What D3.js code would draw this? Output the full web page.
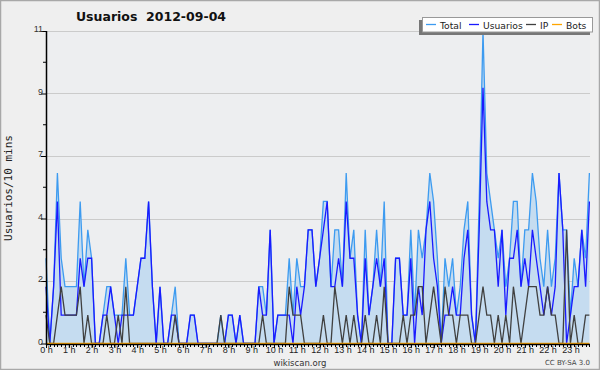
<!DOCTYPE html>
<html lang="es">
<head>
<meta charset="UTF-8">
<title>Usuarios 2012-09-04</title>
<script src="https://d3js.org/d3.v7.min.js"></script>
<style>
  html, body { margin: 0; padding: 0; background: #fff; }
  svg { display: block; font-family: "DejaVu Sans", Verdana, sans-serif; }
</style>
</head>
<body>
<div id="chart"></div>
<script>
// one value every 10 minutes, 144 per day
const hours = d3.range(24).map(h => h + " h");
const total = [
  3,0,2,6,3,2,2,2,2,5,2,4,3,0,0,1,2,2,1,1,1,3,1,1,
  2,3,3,5,2,0,2,0,0,1,2,0,0,0,1,1,0,0,0,0,0,0,1,0,
  1,1,0,1,0,0,0,0,2,2,1,4,0,1,1,1,3,1,3,2,2,4,4,2,
  3,5,5,2,4,4,2,6,3,4,1,0,4,1,2,4,2,5,0,0,3,3,1,1,
  4,1,4,3,4,6,5,3,0,3,2,3,1,2,4,5,1,0,5,11,6,5,4,3,
  4,2,3,5,5,2,4,4,6,5,3,2,4,2,3,6,4,4,1,3,2,4,3,6
];
const usuarios = [
  2,0,2,5,1,1,1,1,1,3,2,3,3,0,0,1,1,2,1,0,1,1,1,1,
  2,3,3,5,2,0,2,0,0,1,1,0,0,0,1,1,0,0,0,0,0,0,0,0,
  1,1,0,1,0,0,0,0,2,1,1,4,0,1,1,1,1,0,2,1,2,4,4,2,
  3,4,5,2,2,3,2,5,3,3,1,0,3,1,2,3,2,3,0,0,3,3,1,1,
  3,0,2,1,4,5,3,2,0,1,1,2,1,1,3,4,1,0,4,9,5,4,4,2,
  4,1,3,3,4,2,3,2,4,3,2,1,2,1,2,6,4,0,1,2,2,4,2,5
];
const ip = [
  1,0,0,1,2,1,1,1,1,2,0,1,0,0,0,0,1,0,0,1,0,2,0,0,
  0,0,0,0,0,0,0,0,0,0,1,0,0,0,0,0,0,0,0,0,0,0,1,0,
  0,0,0,0,0,0,0,0,0,1,0,0,0,0,0,0,2,1,1,1,0,0,0,0,
  0,1,0,0,2,1,0,1,0,1,0,0,1,0,0,1,0,2,0,0,0,0,1,0,
  1,1,2,2,0,1,2,1,0,2,1,1,0,1,1,1,0,0,1,2,1,1,0,1,
  0,1,0,2,1,0,1,2,2,2,1,1,2,1,1,0,0,4,0,1,0,0,1,1
];
const bots = new Array(144).fill(0);

const yTicks = [0, 2.2, 4.4, 6.6, 8.8, 11];

const series = [
  {name: "Total", values: total, color: "#3d9bf0"},
  {name: "Usuarios", values: usuarios, color: "#1a1aff"},
  {name: "IP", values: ip, color: "#404040"},
  {name: "Bots", values: bots, color: "#ffa500"}
];

const W = 600, H = 370;
const plotL = 46, plotR = 590, plotT = 31, plotB = 344;

const svg = d3.select("#chart").append("svg")
  .attr("width", W).attr("height", H);

svg.append("rect").attr("x", 0.5).attr("y", 0.5)
  .attr("width", W - 1).attr("height", H - 1)
  .attr("fill", "#efefef").attr("stroke", "#a8a8a8").attr("stroke-width", 1.5);

const x = d3.scaleLinear().domain([0, 143]).range([plotL, 589.4]);
const y = d3.scaleLinear().domain([0, 11]).range([plotB - 0.5, plotT]);

// plot area
svg.append("rect").attr("x", plotL).attr("y", plotT)
  .attr("width", plotR - plotL).attr("height", plotB - plotT)
  .attr("fill", "#edeef0");

// grid
svg.append("g").selectAll("line").data(yTicks.slice(1)).join("line")
  .attr("x1", plotL).attr("x2", plotR)
  .attr("y1", d => Math.round(y(d)) + 0.5).attr("y2", d => Math.round(y(d)) + 0.5)
  .attr("stroke", "#cbcbcb").attr("stroke-width", 1);

// area under total
svg.append("path").datum(total)
  .attr("fill", "#c5dcf0")
  .attr("d", d3.area().x((d, i) => x(i)).y0(y(0)).y1(d => y(d)));

const line = d3.line().x((d, i) => x(i)).y(d => y(d));
svg.append("g").selectAll("path").data(series).join("path")
  .attr("fill", "none")
  .attr("stroke", d => d.color)
  .attr("stroke-width", 1.3)
  .attr("d", d => line(d.values));

// y axis
const yAxis = svg.append("g").attr("transform", `translate(${plotL},0)`)
  .call(d3.axisLeft(y).tickValues(yTicks).tickSize(5).tickFormat(d => Math.round(d)));
yAxis.select(".domain").remove();
yAxis.selectAll(".tick line").attr("stroke", "#000");
yAxis.selectAll(".tick text").attr("font-size", 9).attr("fill", "#333").attr("x", -3).attr("dy", "0.1em");
svg.append("g").selectAll("line").data(d3.range(1.1, 11, 2.2)).join("line")
  .attr("x1", plotL - 3).attr("x2", plotL)
  .attr("y1", d => y(d)).attr("y2", d => y(d))
  .attr("stroke", "#000");
svg.append("line").attr("x1", plotL + 0.5).attr("x2", plotL + 0.5)
  .attr("y1", plotT).attr("y2", plotB + 1).attr("stroke", "#000").attr("stroke-width", 1.5);

// x axis
const xAxis = svg.append("g").attr("transform", `translate(0,${plotB})`)
  .call(d3.axisBottom(x).tickValues(d3.range(0, 144, 6)).tickSize(4)
    .tickFormat((d, i) => hours[i]));
xAxis.select(".domain").remove();
xAxis.selectAll(".tick line").attr("stroke", "#000");
xAxis.selectAll(".tick text").attr("font-size", 9).attr("fill", "#222").attr("y", 3).attr("dy", "0.71em");
svg.append("g").selectAll("line").data(d3.range(0, 144)).join("line")
  .attr("x1", d => Math.round(x(d)) + 0.5).attr("x2", d => Math.round(x(d)) + 0.5)
  .attr("y1", plotB).attr("y2", plotB + 3)
  .attr("stroke", "#000");
svg.append("line").attr("x1", plotL).attr("x2", plotR)
  .attr("y1", plotB + 0.5).attr("y2", plotB + 0.5)
  .attr("stroke", "#000").attr("stroke-width", 1.5);

// titles
svg.append("text").attr("x", 151).attr("y", 21).attr("text-anchor", "middle")
  .attr("font-size", 12.5).attr("font-weight", "bold").attr("fill", "#111")
  .attr("xml:space", "preserve").text("Usuarios  2012-09-04");

svg.append("text")
  .attr("transform", "translate(12,188) rotate(-90)")
  .attr("text-anchor", "middle").attr("font-family", "DejaVu Sans Mono, monospace")
  .attr("font-size", 11).attr("fill", "#222").text("Usuarios/10 mins");

svg.append("text").attr("x", 300).attr("y", 366).attr("text-anchor", "middle")
  .attr("font-size", 8.5).attr("fill", "#333").text("wikiscan.org");
svg.append("text").attr("x", 590).attr("y", 365).attr("text-anchor", "end")
  .attr("font-size", 7).attr("fill", "#444").text("CC BY-SA 3.0");

// legend
const lg = svg.append("g");
lg.append("rect").attr("x", 419).attr("y", 20).attr("width", 171).attr("height", 15).attr("fill", "#777");
lg.append("rect").attr("x", 422.5).attr("y", 17.5).attr("width", 170).attr("height", 14.5)
  .attr("fill", "#fff").attr("stroke", "#999");
const legendX = [426, 469, 526, 552];
series.forEach((s, i) => {
  lg.append("line").attr("x1", legendX[i]).attr("x2", legendX[i] + 10)
    .attr("y1", 24.5).attr("y2", 24.5).attr("stroke", s.color).attr("stroke-width", 1.3);
  lg.append("text").attr("x", legendX[i] + 14).attr("y", 28.5)
    .attr("font-size", 9.2).attr("fill", "#222").text(s.name);
});
</script>
</body>
</html>
